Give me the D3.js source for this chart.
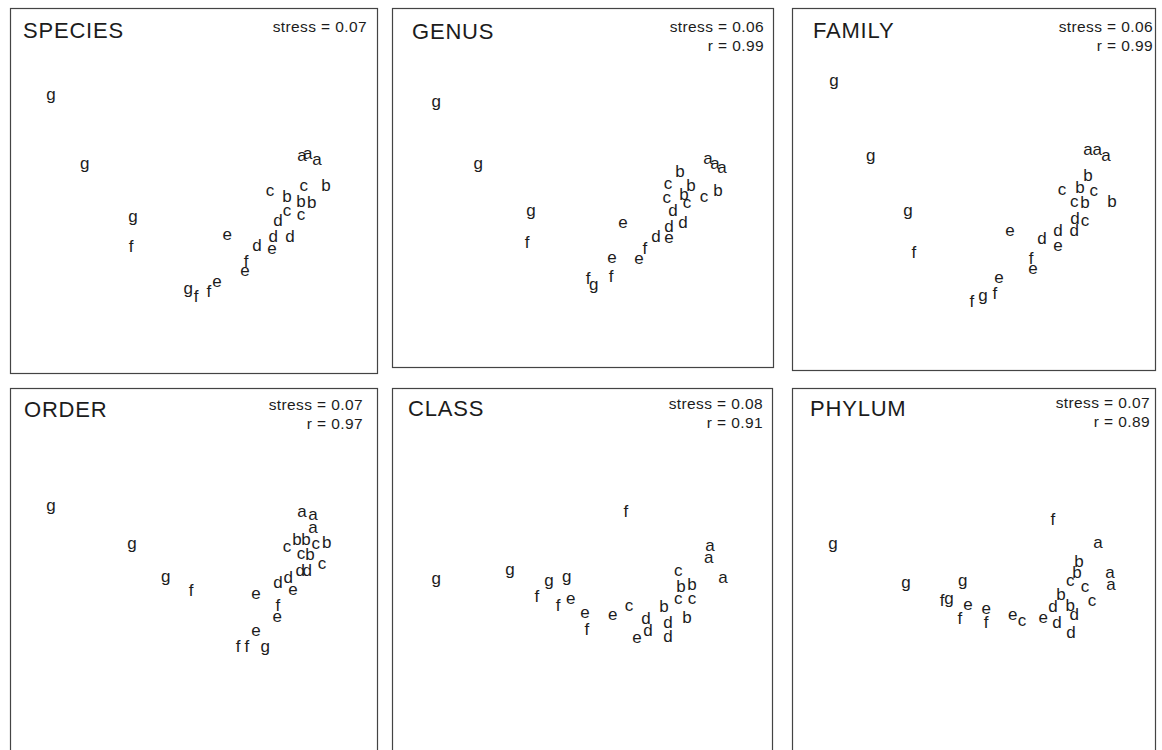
<!DOCTYPE html>
<html>
<head>
<meta charset="utf-8">
<script src="https://cdn.jsdelivr.net/npm/d3@7"></script>
<style>
  body { margin: 0; background: #fff; }
  svg text { font-family: "Liberation Sans", Arial, Helvetica, sans-serif; fill: #1c1c1c; }
</style>
</head>
<body>
<svg id="chart" width="1162" height="750"></svg>
<script>
// Taxonomic levels shown, one MDS ordination per level
const levels = ["SPECIES", "GENUS", "FAMILY", "ORDER", "CLASS", "PHYLUM"];
const stress = [0.07, 0.06, 0.06, 0.07, 0.08, 0.07];
const rWithSpecies = [null, 0.99, 0.99, 0.97, 0.91, 0.89];

// Sample labels and ordination coordinates (dim1 left→right, dim2 top→bottom, 0–100)
const speciesLabels = ["g","g","g","f","e","d","e","d","d","d","c","c","c","b","c","b","b","b","a","a","a","f","e","e","f","g","f"];
const speciesDim1 = [11.2,20.5,33.7,33.2,59.5,67.7,71.8,72.1,76.7,73.4,75.9,79.7,71.2,75.9,80.5,86.6,79.7,82.7,80.0,81.6,84.1,64.7,64.4,56.7,54.5,48.8,51.0];
const speciesDim2 = [23.9,43.1,57.4,65.9,62.4,65.4,66.2,62.9,62.9,58.5,56.0,57.1,50.5,51.9,48.9,48.9,53.3,53.6,40.9,40.1,41.8,69.8,72.5,75.3,78.0,77.2,79.4];

const genusLabels = ["g","g","g","f","e","e","f","f","g","e","f","d","e","d","d","d","c","b","c","c","b","b","c","b","a","a","a"];
const genusDim1 = [12.1,23.6,38.1,37.0,63.3,60.3,60.0,53.7,55.3,67.7,69.3,72.3,75.9,75.9,79.7,77.0,80.8,80.0,75.3,75.6,78.9,81.9,85.5,89.3,86.6,88.5,90.4];
const genusDim2 = [25.8,43.1,56.0,64.8,59.3,68.7,73.9,74.7,76.1,69.0,66.2,62.9,63.2,60.2,59.3,55.8,53.8,51.4,52.2,48.6,45.3,48.9,51.9,50.5,41.5,42.9,44.0];

const familyLabels = ["g","g","g","f","e","d","d","e","d","d","c","c","b","c","b","b","c","b","a","a","a","f","e","e","f","g","f"];
const familyDim1 = [11.5,21.6,31.8,33.4,59.7,68.5,72.9,72.9,77.3,77.5,80.3,77.3,80.3,74.0,78.9,81.1,82.7,87.7,81.1,83.6,86.0,65.5,66.0,56.7,55.6,52.3,49.3];
const familyDim2 = [20.3,40.9,56.0,67.3,61.3,63.5,61.5,65.4,61.5,58.0,58.5,53.3,53.6,50.0,49.5,46.4,50.5,53.3,39.0,39.0,40.9,69.0,71.7,74.2,78.8,79.1,81.0];

const orderLabels = ["g","g","g","f","e","e","f","f","g","f","e","e","d","d","d","d","c","c","b","c","b","b","c","b","a","a","a"];
const orderDim1 = [11.2,33.4,42.7,49.6,67.4,67.4,62.5,64.9,69.9,73.4,73.2,77.5,73.4,76.2,79.5,81.4,85.5,79.7,82.2,75.9,78.6,81.1,83.8,86.8,80.0,83.0,83.0];
const orderDim2 = [32.4,42.9,51.9,55.8,56.6,66.8,71.4,71.2,71.4,59.9,62.9,55.5,53.6,52.2,50.3,50.3,48.6,45.6,45.9,43.7,42.0,42.0,42.9,42.6,34.1,34.9,38.7];

const classLabels = ["g","g","g","g","f","f","e","e","f","e","c","d","d","e","d","d","b","c","c","b","b","b","c","a","a","a","f"];
const classDim1 = [12.1,32.3,43.0,47.9,39.7,45.5,49.0,52.9,53.4,60.5,64.9,69.6,70.1,67.1,75.6,75.6,74.5,78.4,82.2,80.8,79.2,82.2,78.4,87.1,86.8,90.7,64.1];
const classDim2 = [52.7,50.0,53.0,51.9,57.4,59.9,58.2,61.8,66.5,62.6,59.9,63.7,66.8,68.7,64.6,68.4,60.2,58.2,58.2,63.2,54.7,54.1,50.5,43.4,46.7,52.2,34.3];

const phylumLabels = ["g","g","g","f","g","e","f","e","f","e","c","e","d","d","b","b","d","d","c","b","b","c","c","a","a","a","f"];
const phylumDim1 = [11.2,31.2,46.8,41.1,43.0,48.2,46.0,53.2,53.2,60.5,63.0,68.8,72.6,71.5,73.7,76.2,77.3,76.4,76.2,78.1,78.6,80.3,82.2,83.8,87.1,87.4,71.5];
const phylumDim2 = [42.9,53.6,53.0,58.5,58.0,59.6,63.5,60.7,64.6,62.6,64.0,63.2,64.8,60.4,57.1,59.9,62.6,67.3,53.0,50.8,47.8,54.7,58.5,42.6,50.8,54.1,36.5];

const labelSets = [speciesLabels, genusLabels, familyLabels, orderLabels, classLabels, phylumLabels];
const dim1Sets = [speciesDim1, genusDim1, familyDim1, orderDim1, classDim1, phylumDim1];
const dim2Sets = [speciesDim2, genusDim2, familyDim2, orderDim2, classDim2, phylumDim2];

// Panel geometry: frame box, title origin and right edge of the fit statistics
const panels = [
  { x: 10,  y: 8,   w: 367, h: 365, titleX: 23,  titleY: 38,  statX: 367,  statY: 32 },
  { x: 392, y: 8,   w: 381, h: 359, titleX: 412, titleY: 39,  statX: 764,  statY: 32 },
  { x: 792, y: 8,   w: 363, h: 362, titleX: 813, titleY: 38,  statX: 1153, statY: 32 },
  { x: 10,  y: 388, w: 367, h: 380, titleX: 24,  titleY: 417, statX: 363,  statY: 410 },
  { x: 392, y: 388, w: 380, h: 380, titleX: 408, titleY: 416, statX: 763,  statY: 409 },
  { x: 792, y: 388, w: 363, h: 380, titleX: 810, titleY: 416, statX: 1150, statY: 408 }
];
const plotW = 365, plotH = 364;

const svg = d3.select("#chart");

panels.forEach((p, i) => {
  const g = svg.append("g").attr("class", "panel");

  g.append("rect")
    .attr("x", p.x + 0.5).attr("y", p.y + 0.5)
    .attr("width", p.w).attr("height", p.h)
    .attr("fill", "none")
    .attr("stroke", "#444")
    .attr("stroke-width", 1.2);

  g.append("text")
    .attr("x", p.titleX).attr("y", p.titleY)
    .attr("font-size", 22)
    .attr("letter-spacing", "0.8px")
    .text(levels[i]);

  g.append("text")
    .attr("x", p.statX).attr("y", p.statY)
    .attr("text-anchor", "end")
    .attr("font-size", 15.5)
    .attr("letter-spacing", "0.4px")
    .text(`stress = ${stress[i].toFixed(2)}`);

  if (rWithSpecies[i] !== null) {
    g.append("text")
      .attr("x", p.statX).attr("y", p.statY + 19)
      .attr("text-anchor", "end")
      .attr("font-size", 15.5)
      .attr("letter-spacing", "0.4px")
      .text(`r = ${rWithSpecies[i].toFixed(2)}`);
  }

  const xs = d3.scaleLinear().domain([0, 100]).range([p.x, p.x + plotW]);
  const ys = d3.scaleLinear().domain([0, 100]).range([p.y, p.y + plotH]);

  const pts = labelSets[i].map((lab, k) => ({ lab, d1: dim1Sets[i][k], d2: dim2Sets[i][k] }));

  g.selectAll("text.pt")
    .data(pts)
    .join("text")
    .attr("class", "pt")
    .attr("x", d => xs(d.d1))
    .attr("y", d => ys(d.d2))
    .attr("dy", "0.27em")
    .attr("text-anchor", "middle")
    .attr("font-size", 17)
    .text(d => d.lab);
});
</script>
</body>
</html>
